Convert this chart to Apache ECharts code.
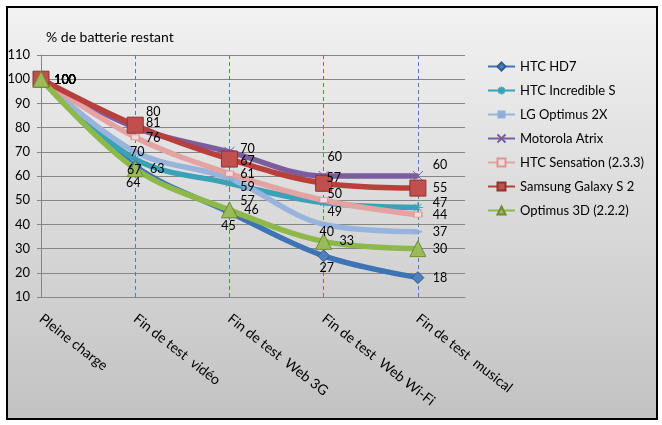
<!DOCTYPE html>
<html>
<head>
<meta charset="utf-8">
<script src="https://cdn.jsdelivr.net/npm/echarts@6/dist/echarts.min.js"></script>
<style>
html,body{margin:0;padding:0;background:#fff;}
#c{width:662px;height:425px;}
</style>
</head>
<body>
<div id="c"></div>
<script>
var categories = ['Pleine charge', 'Fin de test  vidéo', 'Fin de test  Web 3G', 'Fin de test  Web Wi-Fi', 'Fin de test  musical'];
var yTicks = [10, 20, 30, 40, 50, 60, 70, 80, 90, 100, 110];
var seriesNames = ['HTC HD7', 'HTC Incredible S', 'LG Optimus 2X', 'Motorola Atrix', 'HTC Sensation (2.3.3)', 'Samsung Galaxy S 2', 'Optimus 3D (2.2.2)'];
var htcHD7 = [100, 64, 45, 27, 18];
var htcIncredible = [100, 67, 57, 49, 47];
var lgOptimus2X = [100, 70, 59, 40, 37];
var motorolaAtrix = [100, 80, 70, 60, 60];
var htcSensation = [100, 76, 61, 50, 44];
var samsungGalaxyS2 = [100, 81, 67, 57, 55];
var optimus3D = [100, 63, 46, 33, 30];

var values = [htcHD7, htcIncredible, lgOptimus2X, motorolaAtrix, htcSensation, samsungGalaxyS2, optimus3D];

// styling (not data)
var FONT = 'Lato, "Liberation Sans", sans-serif';
var styles = [
  {line: '#3e74b6', symbol: 'diamond', size: 12, fill: '#4f81bd', border: '#2f5d95', bw: 1},
  {line: '#3aa1b6', symbol: 'path://M0,5 L10,5 M5,0 L5,10 M1.5,1.5 L8.5,8.5 M8.5,1.5 L1.5,8.5', size: 10, fill: 'none', border: '#3aa1b6', bw: 1},
  {line: '#98b4dc', symbol: 'rect', size: [8, 2], fill: '#8eaedb', border: '#8eaedb', bw: 0},
  {line: '#7b5c9f', symbol: 'path://M0,0 L10,10 M10,0 L0,10', size: 10, fill: 'none', border: '#7b5c9f', bw: 1},
  {line: '#e4a3a2', symbol: 'rect', size: [8, 5], fill: '#f3dada', border: '#d99694', bw: 1},
  {line: '#b8403c', symbol: 'rect', size: 16, fill: '#c0504d', border: '#8c3431', bw: 1},
  {line: '#8db84a', symbol: 'triangle', size: 16, fill: '#9bbb59', border: '#6e8c35', bw: 1}
];
// label center offsets from each point (layout, not data)
var labelOffsets = [
  [[24, 1], [-2, 17], [-1, 14], [3, 12], [22, 0]],
  [[24, 1], [-1, 11], [18, 18], [11, 9], [22, -4]],
  [[24, 1], [2, 0], [18, 9], [3, 8], [22, 0]],
  [[24, 1], [18, -16], [18, -3], [11, -19], [22, -11]],
  [[24, 1], [18, 1], [18, 0], [11, -6], [22, 0]],
  [[24, 1], [18, -2], [18, 2], [10, -5], [22, 0]],
  [[24, 1], [22, 0], [22, 0], [23, 0], [22, 0]]
];

var series = seriesNames.map(function (name, s) {
  var st = styles[s];
  return {
    name: name,
    type: 'line',
    smooth: 0.35,
    symbol: st.symbol,
    symbolSize: st.size,
    lineStyle: {color: st.line, width: 5.5},
    itemStyle: {color: st.fill, borderColor: st.border, borderWidth: st.bw},
    color: st.line,
    data: values[s].map(function (v, i) {
      return {
        value: [i, v],
        label: {
          show: true,
          position: 'inside',
          offset: labelOffsets[s][i],
          color: '#000',
          fontFamily: FONT,
          fontSize: 12.5
        }
      };
    })
  };
});

var chart = echarts.init(document.getElementById('c'), null, {renderer: 'canvas'});
chart.setOption({
  animation: false,
  backgroundColor: '#ffffff',
  graphic: [{
    type: 'rect',
    z: -10,
    silent: true,
    shape: {x: 7, y: 7, width: 650, height: 412},
    style: {
      fill: new echarts.graphic.LinearGradient(0, 0, 0, 1, [
        {offset: 0, color: '#f2f2f2'},
        {offset: 1, color: '#c2c2c2'}
      ]),
      stroke: '#000',
      lineWidth: 2
    }
  }],
  grid: {left: 41, right: 197, top: 55, bottom: 128},
  legend: {
    orient: 'vertical',
    left: 487,
    top: 60,
    itemWidth: 27,
    itemHeight: 10,
    itemGap: 11,
    padding: 0,
    data: seriesNames,
    textStyle: {color: '#000', fontFamily: FONT, fontSize: 13}
  },
  xAxis: {
    type: 'value',
    min: 0,
    max: 4.5,
    interval: 1,
    axisLine: {show: true, onZero: false, lineStyle: {color: '#868686', width: 1}},
    axisTick: {show: false},
    splitLine: {
      show: true,
      showMinLine: false,
      showMaxLine: false,
      lineStyle: {color: '#4a7ebb', width: 1, type: [4, 3]}
    },
    axisLabel: {
      rotate: -38,
      margin: 20,
      color: '#000',
      fontFamily: FONT,
      fontSize: 14,
      formatter: function (v) {
        return (Math.abs(v - Math.round(v)) < 1e-6 && categories[Math.round(v)] !== undefined) ? categories[Math.round(v)] : '';
      }
    }
  },
  yAxis: {
    type: 'value',
    min: yTicks[0],
    max: yTicks[yTicks.length - 1],
    interval: 10,
    name: '% de batterie restant',
    nameLocation: 'end',
    nameGap: 11,
    nameTextStyle: {align: 'left', color: '#000', fontFamily: FONT, fontSize: 14, padding: [0, 0, 0, 5]},
    axisLine: {show: true, lineStyle: {color: '#868686', width: 1}},
    axisTick: {show: true, length: 4, lineStyle: {color: '#868686'}},
    splitLine: {show: true, lineStyle: {color: '#868686', width: 1}},
    axisLabel: {margin: 11, color: '#000', fontFamily: FONT, fontSize: 13}
  },
  series: series
});
</script>
</body>
</html>
